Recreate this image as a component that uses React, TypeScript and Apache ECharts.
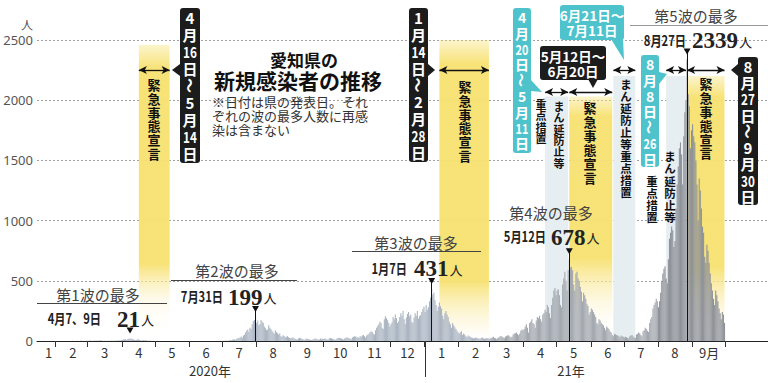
import { useEffect, useRef } from 'react';
import * as echarts from 'echarts';

// ---- daily new cases (Aichi) ----
const jan2020 = [0, 0, 0, 0, 0, 0, 0, 0, 0, 0, 0, 1, 0, 0, 1, 0, 0]; // from Jan 15
const feb2020 = [0, 0, 0, 0, 0, 0, 0, 0, 0, 0, 0, 0, 0, 1, 0, 2, 1, 0, 1, 2, 1, 0, 2, 3, 1, 2, 1, 2, 3];
const mar2020 = [2, 3, 4, 2, 1, 2, 4, 3, 5, 4, 2, 6, 4, 3, 1, 2, 3, 1, 3, 2, 1, 4, 3, 1, 2, 5, 2, 5, 6, 4, 8];
const apr2020 = [9, 12, 14, 15, 8, 16, 21, 18, 21, 17, 12, 10, 6, 9, 14, 12, 9, 7, 5, 8, 5, 6, 4, 3, 2, 2, 3, 1, 2, 1];
const may2020 = [1, 0, 1, 0, 0, 0, 1, 0, 0, 0, 0, 0, 0, 0, 0, 0, 0, 0, 0, 0, 0, 0, 0, 0, 0, 0, 0, 0, 0, 0, 0];
const jun2020 = [0, 0, 0, 0, 0, 0, 0, 0, 0, 0, 0, 0, 0, 0, 0, 0, 0, 0, 0, 1, 0, 0, 0, 1, 0, 2, 1, 0, 2, 1];
const jul2020 = [1, 2, 3, 2, 4, 1, 5, 8, 6, 10, 12, 14, 9, 18, 25, 22, 30, 38, 26, 45, 52, 70, 88, 96, 75, 110, 100, 140, 167, 174, 199];
const aug2020 = [150, 170, 130, 140, 175, 160, 150, 120, 105, 90, 95, 130, 110, 100, 85, 70, 60, 90, 75, 65, 55, 62, 40, 35, 48, 42, 30, 36, 40, 32, 25];
const sep2020 = [22, 28, 30, 20, 18, 15, 10, 22, 26, 22, 18, 15, 12, 10, 20, 18, 15, 12, 10, 8, 12, 15, 20, 18, 14, 10, 12, 21, 15, 18];
const oct2020 = [16, 20, 18, 12, 10, 22, 25, 22, 18, 15, 10, 12, 20, 25, 28, 24, 20, 15, 12, 21, 26, 30, 28, 22, 18, 15, 30, 35, 40, 38, 30];
const nov2020 = [32, 25, 40, 35, 45, 50, 40, 30, 45, 55, 60, 72, 80, 75, 60, 55, 90, 110, 125, 140, 160, 150, 110, 100, 180, 205, 190, 172, 150, 120];
const dec2020 = [140, 155, 200, 180, 220, 190, 150, 165, 200, 230, 210, 250, 180, 140, 195, 225, 240, 205, 220, 160, 150, 195, 230, 210, 250, 185, 205, 215, 240, 265, 285];
const jan2021 = [240, 300, 260, 280, 330, 360, 431, 385, 400, 340, 300, 250, 285, 320, 290, 270, 210, 180, 230, 250, 220, 200, 160, 140, 110, 150, 130, 115, 100, 85, 70];
const feb2021 = [60, 72, 80, 50, 62, 55, 40, 32, 45, 40, 35, 30, 28, 20, 25, 30, 28, 22, 20, 18, 25, 30, 22, 18, 20, 25, 22, 18];
const mar2021 = [20, 25, 30, 35, 28, 22, 15, 25, 30, 38, 42, 35, 30, 25, 35, 42, 48, 45, 38, 30, 35, 55, 62, 65, 70, 58, 48, 60, 85, 95, 90];
const apr2021 = [100, 120, 140, 110, 70, 150, 160, 180, 150, 140, 110, 170, 200, 190, 210, 180, 160, 220, 230, 260, 240, 300, 280, 230, 190, 300, 360, 420, 440, 380];
const may2021 = [420, 430, 380, 300, 280, 470, 520, 575, 500, 420, 590, 678, 610, 617, 588, 470, 420, 560, 575, 520, 500, 450, 410, 330, 400, 380, 350, 310, 290, 220, 240];
const jun2021 = [270, 260, 240, 220, 200, 150, 140, 180, 170, 150, 140, 130, 110, 90, 120, 110, 100, 80, 70, 50, 40, 60, 55, 50, 45, 40, 30, 45, 40, 35];
const jul2021 = [30, 35, 32, 25, 20, 40, 45, 50, 38, 30, 25, 55, 60, 70, 65, 50, 40, 80, 90, 110, 100, 85, 75, 150, 180, 200, 270, 300, 320, 350, 330];
const aug2021 = [280, 330, 400, 500, 560, 600, 620, 520, 480, 680, 850, 900, 950, 920, 780, 830, 1100, 1300, 1450, 1600, 1650, 1550, 1300, 1700, 1900, 2000, 2339, 2050, 1950, 1600, 1750];
const sep2021 = [1800, 1700, 1650, 1500, 1300, 1000, 1350, 1250, 1100, 950, 900, 700, 650, 800, 750, 650, 560, 480, 420, 350, 300, 420, 380, 330, 270, 230, 180, 240, 220, 150];

const monthly: [number, number, number, number[]][] = [
  [2020, 1, 15, jan2020], [2020, 2, 1, feb2020], [2020, 3, 1, mar2020], [2020, 4, 1, apr2020],
  [2020, 5, 1, may2020], [2020, 6, 1, jun2020], [2020, 7, 1, jul2020], [2020, 8, 1, aug2020],
  [2020, 9, 1, sep2020], [2020, 10, 1, oct2020], [2020, 11, 1, nov2020], [2020, 12, 1, dec2020],
  [2021, 1, 1, jan2021], [2021, 2, 1, feb2021], [2021, 3, 1, mar2021], [2021, 4, 1, apr2021],
  [2021, 5, 1, may2021], [2021, 6, 1, jun2021], [2021, 7, 1, jul2021], [2021, 8, 1, aug2021],
  [2021, 9, 1, sep2021],
];

// axis range and labels
const axisStart = '2020-01-15';
const axisEnd = '2021-11-08';
const monthTickLabels = ['1', '2', '3', '4', '5', '6', '7', '8', '9', '10', '11', '12', '1', '2', '3', '4', '5', '6', '7', '8', '9月'];
const yTicks = [0, 500, 1000, 1500, 2000, 2500];

// periods
const emergencyPeriods = [['2020-04-16', '2020-05-14'], ['2021-01-14', '2021-02-28'], ['2021-05-12', '2021-06-20'], ['2021-08-27', '2021-09-30']];
const priorityPeriods = [['2021-04-20', '2021-05-11'], ['2021-06-21', '2021-07-11'], ['2021-08-08', '2021-08-26']];

// wave peaks
const waveNames = ['第1波の最多', '第2波の最多', '第3波の最多', '第4波の最多', '第5波の最多'];
const peakDates = ['2020-04-08', '2020-07-31', '2021-01-07', '2021-05-12', '2021-08-27'];
const peakValues = [21, 199, 431, 678, 2339];
const peakDateLabels = ['4月7、9日', '7月31日', '1月7日', '5月12日', '8月27日'];

const FONT = '"Noto Sans CJK JP", "Noto Sans", sans-serif';
const SERIF = '"Liberation Serif", "DejaVu Serif", serif';

const pad = (n: number) => (n < 10 ? '0' + n : '' + n);
const daysIn = (y: number, m: number) => new Date(Date.UTC(y, m, 0)).getUTCDate();

function buildDates() {
  const out: string[] = [];
  const d = new Date(axisStart + 'T00:00:00Z');
  const end = new Date(axisEnd + 'T00:00:00Z').getTime();
  while (d.getTime() <= end) {
    out.push(d.toISOString().slice(0, 10));
    d.setUTCDate(d.getUTCDate() + 1);
  }
  return out;
}

function txt(x: number, y: number, text: string, s: any = {}, extra: any = {}) {
  const align = s.align ?? 'center';
  const va = s.va ?? 'middle';
  return {
    type: 'text', x, y, z: 100, silent: true, ...extra,
    style: {
      text, fill: s.fill ?? '#222', fontSize: s.size ?? 13, fontWeight: s.weight ?? 'normal',
      fontFamily: s.family ?? FONT, align, verticalAlign: va, textAlign: align, textVerticalAlign: va,
      lineHeight: s.lh,
    },
  };
}

// vertical (tategaki) column, one glyph per element; wave dash turned upright, two-digit numbers condensed
function vtext(str: string, cx: number, top: number, lh: number, size: number, fill: string, weight = 'bold') {
  const chars = str.match(/\d+|./g) as string[];
  return chars.map((c, i) =>
    txt(cx, top + lh * (i + 0.5), c, { size, fill, weight, lh: Math.min(size, lh) }, {
      rotation: c === '～' ? -Math.PI / 2 : 0,
      scaleX: c.length > 1 ? 0.78 : 1,
    }),
  );
}

const rect = (x: number, y: number, w: number, h: number, fill: string) => ({
  type: 'rect', z: 90, silent: true, shape: { x, y, width: w, height: h, r: 3 }, style: { fill },
});
const poly = (points: number[][], fill: string) => ({ type: 'polygon', z: 90, silent: true, shape: { points }, style: { fill } });
const hline = (x1: number, y1: number, x2: number, y2: number, stroke: string, w = 1) => ({
  type: 'line', z: 90, silent: true, shape: { x1, y1, x2, y2 }, style: { stroke, lineWidth: w },
});

const BLACK = '#1c1c1c';
const CYAN = '#4fc3cc';
const YEL = '247,225,112';

function yellow(f1: number, f2: number) {
  return new echarts.graphic.LinearGradient(0, 0, 0, 1, [
    { offset: 0, color: `rgba(${YEL},0.35)` },
    { offset: 0.08, color: `rgba(${YEL},0.95)` },
    { offset: f1, color: `rgba(${YEL},0.95)` },
    { offset: f2, color: 'rgba(252,244,210,0.35)' },
    { offset: 1, color: 'rgba(255,255,255,0)' },
  ]);
}

export default function App() {
  const ref = useRef<HTMLDivElement>(null);
  useEffect(() => {
    document.body.style.margin = '0';
    const chart = echarts.init(ref.current!, undefined, { renderer: 'svg' });
    const dates = buildDates();
    const valueMap = new Map<string, number>();
    for (const [y, m, d0, arr] of monthly) {
      arr.forEach((v, i) => {
        const day = d0 + i;
        if (day <= daysIn(y, m)) valueMap.set(`${y}-${pad(m)}-${pad(day)}`, v);
      });
    }
    const values = dates.map((d) => (valueMap.has(d) ? valueMap.get(d)! : null));

    const labelMap = new Map<string, string>();
    monthTickLabels.forEach((lab, i) => {
      const y = 2020 + Math.floor(i / 12);
      const m = (i % 12) + 1;
      const day = i === 0 ? 25 : 16;
      labelMap.set(`${y}-${pad(m)}-${pad(day)}`, lab);
    });

    // styling layout for bands / arrows
    const emTop = [2460, 2500, 2030, 2200];
    const emFade = [[0.74, 0.87], [0.8, 0.96], [0.66, 0.88], [0.72, 0.93]];
    const emArrow = [2250, 2250, 2068, 2250];
    const prTop = [2030, 2200, 2200];
    const prArrow = [2068, 2250, 2250];

    const areas: any[] = [];
    emergencyPeriods.forEach(([s, e], i) => {
      areas.push([{ xAxis: s, yAxis: emTop[i], itemStyle: { color: yellow(emFade[i][0], emFade[i][1]) } }, { xAxis: e, yAxis: 0 }]);
    });
    priorityPeriods.forEach(([s, e], i) => {
      areas.push([{ xAxis: s, yAxis: prTop[i], itemStyle: { color: '#e7eef1' } }, { xAxis: e, yAxis: 0 }]);
    });

    const arrows: any[] = [];
    emergencyPeriods.forEach(([s, e], i) => arrows.push([{ coord: [s, emArrow[i]] }, { coord: [e, emArrow[i]] }]));
    priorityPeriods.forEach(([s, e], i) => arrows.push([{ coord: [s, prArrow[i]] }, { coord: [e, prArrow[i]] }]));

    const peakLines = peakDates.slice(1).map((d, i) => [
      { coord: [d, peakValues[i + 1] + 60] },
      { coord: [d, 0] },
    ]);

    const barColor = (p: any) => {
      const d = dates[p.dataIndex];
      if (d >= '2021-08-01') return '#8f9399';
      if (d >= '2021-03-01') return '#a3a8af';
      return '#abb5c2';
    };

    const option: any = {
      animation: false,
      grid: { left: 37, right: 0, top: 40, bottom: 42 },
      xAxis: {
        type: 'category',
        data: dates,
        boundaryGap: true,
        axisLine: { lineStyle: { color: '#222', width: 1.2 } },
        axisTick: {
          show: true,
          interval: (_i: number, v: string) => v.endsWith('-01') && v <= '2021-10-01',
          length: 6,
          lineStyle: { color: '#333' },
        },
        axisLabel: {
          interval: (_i: number, v: string) => labelMap.has(v),
          formatter: (v: string) => labelMap.get(v) ?? '',
          color: '#333', fontSize: 13, margin: 5, fontFamily: FONT,
        },
        splitLine: { show: false },
      },
      yAxis: {
        type: 'value', min: yTicks[0], max: yTicks[yTicks.length - 1], interval: 500,
        axisLine: { show: false }, axisTick: { show: false },
        axisLabel: {
          color: '#555', fontSize: 13, margin: 4, fontFamily: '"Noto Sans", sans-serif',
          formatter: (v: number) => String(v),
        },
        splitLine: { lineStyle: { color: '#888', type: [2, 2], width: 0.8 } },
      },
      series: [
        {
          type: 'line', data: values, showSymbol: false, silent: true, z: 1,
          lineStyle: { opacity: 0, width: 0 },
          markArea: { silent: true, data: areas },
        },
        {
          type: 'bar', data: values, barCategoryGap: '0%', silent: true, z: 3,
          itemStyle: { color: barColor },
        },
        {
          type: 'line', data: values, showSymbol: false, silent: true, z: 5,
          lineStyle: { opacity: 0, width: 0 },
          markLine: {
            silent: true, symbol: ['arrow', 'arrow'], symbolSize: [6, 8],
            lineStyle: { color: '#111', width: 1.3, type: 'solid' },
            label: { show: false }, emphasis: { disabled: true },
            data: arrows,
          },
        },
        {
          type: 'line', data: values, showSymbol: false, silent: true, z: 6,
          lineStyle: { opacity: 0, width: 0 },
          markLine: {
            silent: true, symbol: ['none', 'none'],
            lineStyle: { color: '#111', width: 1, type: 'solid' },
            label: { show: false }, emphasis: { disabled: true },
            data: peakLines,
          },
          markPoint: {
            silent: true,
            data: peakDates.map((d, i) => ({
              coord: [d, peakValues[i]], symbol: 'triangle', symbolRotate: 180, symbolSize: [7, 6],
              symbolOffset: [0, -8], itemStyle: { color: '#111' }, label: { show: false },
            })),
          },
        },
      ],
    };
    chart.setOption(option);

    const jan1 = chart.convertToPixel({ xAxisIndex: 0 }, '2021-01-01') as number;
    const nxt = chart.convertToPixel({ xAxisIndex: 0 }, '2021-01-02') as number;
    const divX = Math.round(jan1 - (nxt - jan1) / 2) + 0.5;

    const els: any[] = [];
    // axis extras
    els.push(hline(divX, 341, divX, 377, '#333', 1));
    els.push(txt(210, 370, '2020年', { size: 13, fill: '#333' }));
    els.push(txt(571, 370, '21年', { size: 13, fill: '#333' }));
    els.push(txt(27, 24, '人', { size: 12, fill: '#555' }));

    // title
    els.push(txt(304, 59, '愛知県の', { size: 17, weight: 'bold', fill: '#111' }));
    els.push(txt(298, 80, '新規感染者の推移', { size: 21, weight: 'bold', fill: '#111' }));
    els.push(txt(212, 94, '※日付は県の発表日。それ\nぞれの波の最多人数に再感\n染は含まない', { size: 13, fill: '#333', align: 'left', va: 'top', lh: 14 }));

    // wave labels
    const titlePos = [[98, 294], [237, 270], [416, 242], [551, 212], [696, 15]];
    const underline = [[37, 303, 167], [171, 280, 297], [352, 251, 481], null, [630, 25, 768]];
    const rowPos = [[101, 117, 318], [223, 228, 296], [407, 414, 267.5], [546, 551, 236], [686, 692, 39.5]];
    waveNames.forEach((w, i) => {
      els.push(txt(titlePos[i][0], titlePos[i][1], w, { size: 15, fill: '#444' }));
      const u = underline[i];
      if (u) els.push(hline(u[0], u[1] + 0.5, u[2], u[1] + 0.5, i === 4 ? '#999' : '#444', 1));
      const [dr, nl, ry] = rowPos[i];
      els.push(txt(dr, ry, peakDateLabels[i], { size: 14, weight: 'bold', fill: '#222', align: 'right' }, { scaleX: 0.8 }));
      const num = String(peakValues[i]);
      els.push(txt(nl, ry + 1, num, { size: 23, weight: 'bold', fill: '#222', align: 'left', family: SERIF }));
      els.push(txt(nl + num.length * 11.5 + 1, ry + 1.5, '人', { size: 13, fill: '#222', align: 'left' }));
    });

    // emergency / priority boxes
    // box 1
    els.push(rect(180, 8, 20, 155, BLACK));
    els.push(poly([[180, 64], [180, 76], [172, 70]], BLACK));
    els.push(...vtext('4月16日～5月14日', 190, 9, 17, 15, '#fff'));
    // box 2
    els.push(rect(409, 8, 19, 154, BLACK));
    els.push(poly([[428, 64], [428, 76], [435, 70]], BLACK));
    els.push(...vtext('1月14日～2月28日', 418.5, 9, 16.9, 15, '#fff'));
    // box 3 (cyan)
    els.push(rect(513, 8, 18, 145, CYAN));
    els.push(poly([[531, 80], [531, 91], [542, 92]], CYAN));
    els.push(...vtext('4月20日～5月11日', 522, 9, 15.8, 14, '#fff'));
    // box 4 (black, horizontal)
    els.push(rect(540, 46, 66, 34, BLACK));
    els.push(poly([[588, 79], [598, 79], [593, 88]], BLACK));
    els.push(txt(573, 63, '5月12日～\n6月20日', { size: 13.5, weight: 'bold', fill: '#fff', lh: 15 }));
    // box 5 (cyan, horizontal)
    els.push(rect(560, 5, 64, 35, CYAN));
    els.push(poly([[611, 39], [623, 39], [624, 60]], CYAN));
    els.push(txt(592, 22.5, '6月21日～\n7月11日', { size: 13.5, weight: 'bold', fill: '#fff', lh: 15 }));
    // box 6 (cyan vertical)
    els.push(rect(641, 55, 18, 112, CYAN));
    els.push(poly([[659, 72], [659, 84], [667, 74]], CYAN));
    els.push(...vtext('8月8日～26日', 650, 56, 15.8, 14, '#fff'));
    // box 7 (black vertical)
    els.push(rect(738, 57, 20, 148, BLACK));
    els.push(poly([[738, 64], [738, 76], [731, 70]], BLACK));
    els.push(...vtext('8月27日～9月30日', 748, 58, 16.3, 15, '#fff'));

    // captions in bands
    els.push(...vtext('緊急事態宣言', 154, 78, 13.7, 13, '#111'));
    els.push(...vtext('緊急事態宣言', 465, 80, 13.7, 13, '#111'));
    els.push(...vtext('緊急事態宣言', 590, 100, 14, 13, '#111'));
    els.push(...vtext('緊急事態宣言', 706, 77, 13.8, 13, '#111'));
    els.push(...vtext('まん延防止等', 559, 100, 11.4, 11, '#111'));
    els.push(...vtext('重点措置', 541, 98, 11.4, 11, '#111'));
    els.push(...vtext('まん延防止等重点措置', 626, 78, 12, 11.5, '#111'));
    els.push(...vtext('まん延防止等', 670, 150, 12.2, 11.5, '#111'));
    els.push(...vtext('重点措置', 652, 175, 12, 11.5, '#111'));

    chart.setOption({ graphic: { elements: els } });
    return () => chart.dispose();
  }, []);
  return <div ref={ref} style={{ width: 768, height: 383 }} />;
}
